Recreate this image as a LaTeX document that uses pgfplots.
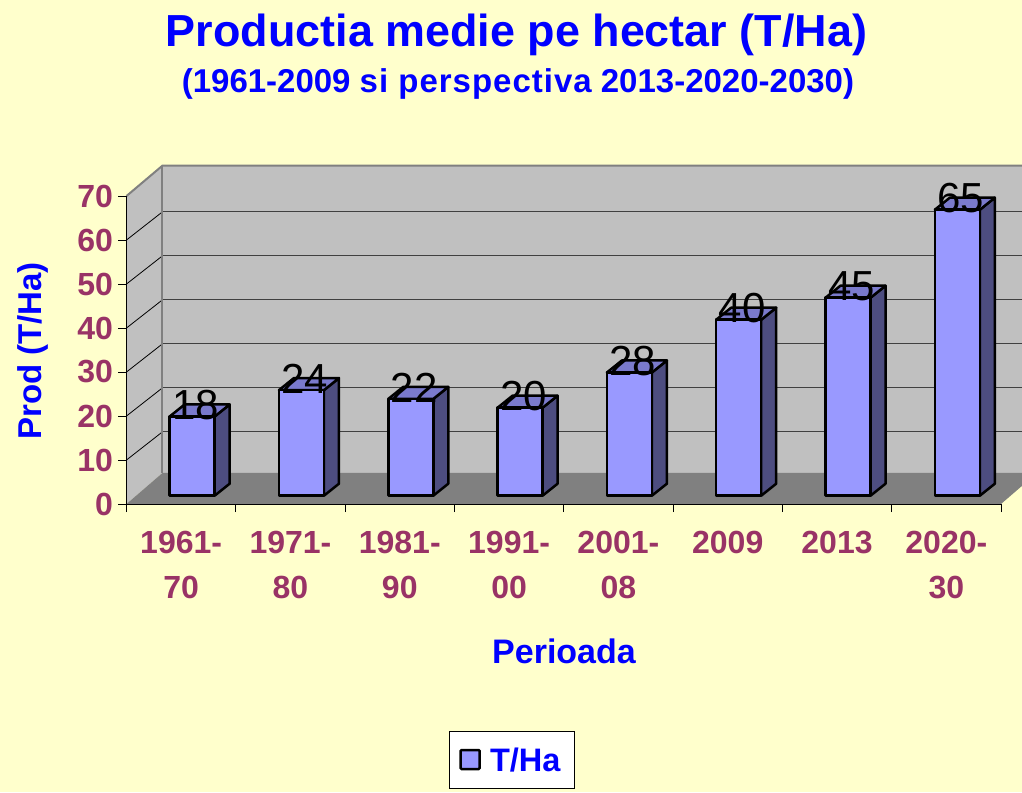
\documentclass[border=0pt]{standalone}
\usepackage{fontspec}
\setmainfont{Liberation Sans}
\usepackage{pgfplots}
\usepackage{pgfplotstable}
\pgfplotsset{compat=1.18}
\definecolor{bg}{HTML}{FFFFCC}
\definecolor{wall}{HTML}{C0C0C0}
\definecolor{floorc}{HTML}{808080}
\definecolor{barf}{HTML}{9999FF}
\definecolor{bars}{HTML}{4D4D80}
\definecolor{bart}{HTML}{7A7ACC}
\definecolor{lab}{HTML}{993366}
\pgfplotstableread{
x y
0 18
1 24
2 22
3 20
4 28
5 40
6 45
7 65
}\prod
\newcommand\sidetop[2]{%
  \addplot[forget plot,fill=bars,draw=black,line width=2.5pt,line join=round,xshift=11pt,yshift=8.3pt]
    coordinates {({#1+0.206},0) ({#1+0.343},2.73) ({#1+0.343},{#2+2.73}) ({#1+0.206},#2)} --cycle;
  \addplot[forget plot,fill=bart,draw=black,line width=2.5pt,line join=round,xshift=11pt,yshift=8.3pt]
    coordinates {({#1-0.206},#2) ({#1+0.206},#2) ({#1+0.343},{#2+2.73}) ({#1-0.069},{#2+2.73})} --cycle;
}
\begin{document}
\begin{tikzpicture}[x=1pt,y=1pt]
\useasboundingbox (-126.5,-288) rectangle (895.5,504);
\fill[bg] (-126.5,-288) rectangle (895.5,504);
\begin{axis}[
  scale only axis, width=874.5pt, height=308pt,
  xmin=-0.5, xmax=7.5, ymin=0, ymax=70,
  clip=false, axis on top,
  axis x line*=bottom, axis y line*=left,
  axis line style={black,line width=1pt,-},
  xtick={-0.5,0.5,...,7.5}, xticklabels={},
  ytick={0,10,...,70},
  extra x ticks={0,1,...,7},
  extra x tick labels={{1961-\\70},{1971-\\80},{1981-\\90},{1991-\\00},{2001-\\08},{2009\\\strut},{2013\\\strut},{2020-\\30}},
  extra x tick style={major tick length=0pt,
    xticklabel style={align=center,font=\fontsize{32}{45}\selectfont\bfseries,text=lab,yshift=-24pt}},
  tick style={black,line width=1pt},
  major tick length=8pt,
  tick align=outside,
  /pgf/number format/assume math mode=true,
  yticklabel style={font=\fontsize{32}{36}\selectfont\bfseries,text=lab,xshift=-2pt},
  xlabel={Perioada}, ylabel={Prod (T/Ha)},
  every axis x label/.style={at={(axis description cs:0.5003,-0.477)},anchor=center,font=\fontsize{34}{38}\selectfont\bfseries,text=blue},
  every axis y label/.style={at={(axis description cs:-0.1075,0.497)},anchor=center,rotate=90,font=\fontsize{33}{36}\selectfont\bfseries,text=blue},
  legend style={at={(axis description cs:0.3686,-0.7370)},anchor=north west,draw=black,fill=white,line width=1pt,
    font=\fontsize{32.5}{36}\selectfont\bfseries,text=blue,inner xsep=10pt,inner ysep=14pt},
]
\addlegendimage{legend image code/.code={\draw[fill=barf,draw=black,line width=2.5pt,rounded corners=1pt] (0pt,-9pt) rectangle (19pt,10pt); \path (27pt,0pt);}}
\addlegendentry{T/Ha\hspace*{2pt}\rule[-24pt]{0pt}{1pt}}
% walls and floor
\addplot[forget plot,fill=wall,draw=none] coordinates {(-0.171,7.05) (7.829,7.05) (7.829,76.9) (-0.171,76.9)} --cycle;
\addplot[forget plot,fill=wall,draw=none] coordinates {(-0.5,0) (-0.171,7.05) (-0.171,76.9) (-0.5,70)} --cycle;
\addplot[forget plot,fill=floorc,draw=none] coordinates {(-0.5,0) (7.5,0) (7.829,7.05) (-0.171,7.05)} --cycle;
\pgfplotsinvokeforeach{10,20,...,60}{
  \addplot[forget plot,black,line width=0.8pt] coordinates {(-0.5,#1) (-0.171,{#1+6.4})};
  \addplot[forget plot,black!75,line width=1.2pt] coordinates {(-0.171,{#1+6.4}) (7.829,{#1+6.4})};
}
\addplot[forget plot,floorc,line width=2pt] coordinates {(-0.5,70) (-0.171,76.9) (7.829,76.9)};
\addplot[forget plot,floorc,line width=2pt] coordinates {(-0.171,76.9) (-0.171,7.05)};
\addplot[forget plot,floorc,line width=1pt] coordinates {(-0.5,0) (-0.5,70)};
% bars
\sidetop{0}{18}\sidetop{1}{24}\sidetop{2}{22}\sidetop{3}{20}\sidetop{4}{28}\sidetop{5}{40}\sidetop{6}{45}\sidetop{7}{65}
\addplot[forget plot,ybar,bar shift=0pt,bar width=45pt,fill=barf,draw=black,line width=2.5pt,line join=round,xshift=11pt,yshift=8.3pt] table {\prod};
\addplot[forget plot,draw=none,mark=none,nodes near coords,
  every node near coord/.style={anchor=center,xshift=14.5pt,yshift=19.5pt,font=\fontsize{42}{44}\selectfont,text=black,inner sep=0pt}] table {\prod};
\end{axis}
\node[font=\fontsize{44.9}{48}\selectfont\bfseries,text=blue] at (390,469) {Productia medie pe hectar (T/Ha)};
\node[font=\fontsize{33}{36}\selectfont\bfseries,text=blue] at (391.5,420) {(1961-2009 {\addfontfeature{LetterSpace=3}si perspectiva} 2013-2020-2030)};
\end{tikzpicture}
\end{document}
